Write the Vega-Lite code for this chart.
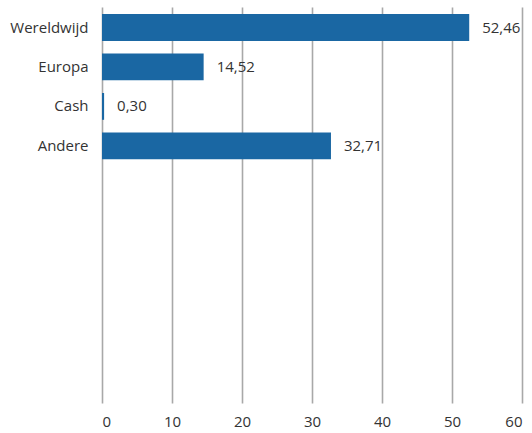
{
  "$schema": "https://vega.github.io/schema/vega-lite/v6.json",
  "width": 420,
  "height": 396,
  "autosize": {"type": "none"},
  "padding": {"left": 102, "top": 7, "right": 10, "bottom": 30},
  "background": "white",
  "config": {
    "locale": {"number": {"decimal": ",", "thousands": ".", "grouping": [3], "currency": ["€", ""]}},
    "view": {"stroke": null},
    "font": "Open Sans"
  },
  "data": {
    "values": [
      {"categorie": "Wereldwijd", "waarde": 52.46},
      {"categorie": "Europa", "waarde": 14.52},
      {"categorie": "Cash", "waarde": 0.30},
      {"categorie": "Andere", "waarde": 32.71}
    ]
  },
  "encoding": {
    "y": {
      "field": "categorie",
      "type": "nominal",
      "scale": {
        "domain": ["Wereldwijd", "Europa", "Cash", "Andere", "_1", "_2", "_3", "_4", "_5", "_6"],
        "paddingInner": 0.32,
        "paddingOuter": 0.18
      },
      "axis": {
        "title": null,
        "ticks": false,
        "domain": false,
        "labelPadding": 14,
        "labelFontSize": 15,
        "labelColor": "#333333",
        "labelExpr": "indexof(datum.value, '_') == 0 ? '' : datum.value"
      }
    },
    "x": {
      "field": "waarde",
      "type": "quantitative",
      "scale": {"domain": [0, 60], "nice": false},
      "axis": {
        "title": null,
        "values": [0, 10, 20, 30, 40, 50, 60],
        "grid": true,
        "gridColor": "#a8a8a8",
        "gridWidth": 1.6,
        "domain": false,
        "ticks": false,
        "labelPadding": 11,
        "labelFontSize": 15,
        "labelColor": "#333333",
        "format": "d"
      }
    }
  },
  "layer": [
    {"mark": {"type": "bar", "color": "#1a67a3"}},
    {
      "mark": {"type": "text", "align": "left", "baseline": "middle", "dx": 13, "fontSize": 15, "color": "#333333"},
      "encoding": {"text": {"field": "waarde", "type": "quantitative", "format": ".2f"}}
    }
  ]
}
